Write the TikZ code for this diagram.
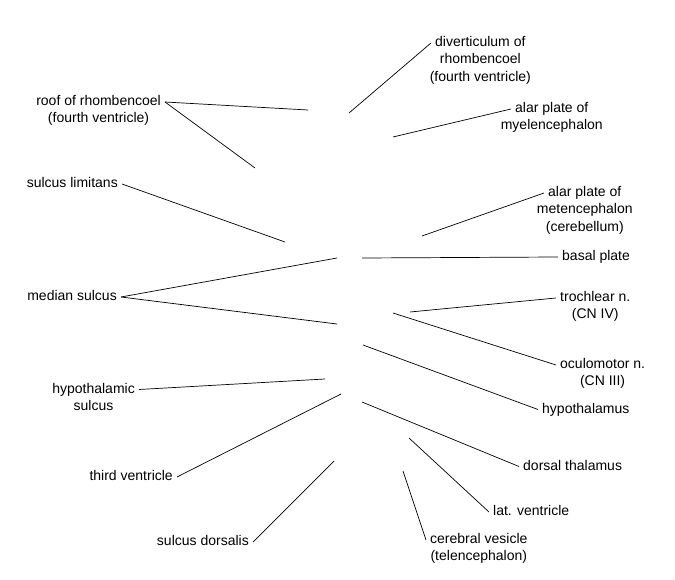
\documentclass[tikz,border=0pt]{standalone}
\usepackage{fontspec}
\setmainfont{Liberation Sans}
\usetikzlibrary{positioning}

\begin{document}
\begin{tikzpicture}[x=1pt, y=-1pt, every node/.style={font=\fontsize{14}{17}\selectfont, inner xsep=4pt, inner ysep=2pt, text height=10pt, text depth=3pt}, lead/.style={line width=0.7pt}]
    \useasboundingbox (0,0) rectangle (675,580);
    % left labels
    \node[anchor=east] (roof) at (165,102) {roof of rhombencoel};
    \node[below=0pt of roof] (roof2) {(fourth ventricle)};
    \node[anchor=east] (limitans) at (122,184) {sulcus limitans};
    \node[anchor=east] (median) at (121,297) {median sulcus};
    \node[anchor=east] (hypsulc) at (139,389.5) {hypothalamic};
    \node[below=0pt of hypsulc] (hypsulc2) {sulcus};
    \node[anchor=east] (third) at (177,477) {third ventricle};
    \node[anchor=east] (dorsalis) at (253,542) {sulcus dorsalis};
    % right labels
    \node[anchor=west] (divert) at (431,43) {diverticulum of};
    \node[below=0pt of divert] (divert2) {rhombencoel};
    \node[below=0pt of divert2] (divert3) {(fourth ventricle)};
    \node[anchor=west] (alarmy) at (511,109) {alar plate of};
    \node[below=0pt of alarmy] (alarmy2) {myelencephalon};
    \node[anchor=west] (alarme) at (544,193) {alar plate of};
    \node[below=0pt of alarme] (alarme2) {metencephalon};
    \node[below=0pt of alarme2] (alarme3) {(cerebellum)};
    \node[anchor=west] (basal) at (558,257) {basal plate};
    \node[anchor=west] (troch) at (556,298) {trochlear n.};
    \node[below=0pt of troch] (troch2) {(CN IV)};
    \node[anchor=west] (oculo) at (556,365) {oculomotor n.};
    \node[below=0pt of oculo] (oculo2) {(CN III)};
    \node[anchor=west] (hypthal) at (538,409.5) {hypothalamus};
    \node[anchor=west] (dthal) at (519,466.5) {dorsal thalamus};
    \node[anchor=west] (latvent) at (489,512) {lat. ventricle};
    \node[anchor=west] (cerebral) at (426,540) {cerebral vesicle};
    \node[below=0pt of cerebral] (cerebral2) {(telencephalon)};
    % free ends
    \coordinate (roofP) at (308,110);
    \coordinate (roofQ) at (255,168);
    \coordinate (limitansP) at (285,242);
    \coordinate (medianP) at (337,258);
    \coordinate (medianQ) at (337,324);
    \coordinate (hypsulcP) at (325,379);
    \coordinate (thirdP) at (341,394);
    \coordinate (dorsalisP) at (334,461);
    \coordinate (divertP) at (349,113);
    \coordinate (alarmyP) at (393,137);
    \coordinate (alarmeP) at (422,236);
    \coordinate (basalP) at (362,258);
    \coordinate (trochP) at (410,312);
    \coordinate (oculoP) at (393,313);
    \coordinate (hypthalP) at (363,345);
    \coordinate (dthalP) at (362,402);
    \coordinate (latventP) at (409,438);
    \coordinate (cerebralP) at (403,471);
    % leader lines
    \draw[lead] (roof.east) -- (roofP);
    \draw[lead] (roof.east) -- (roofQ);
    \draw[lead] (limitans.east) -- (limitansP);
    \draw[lead] (median.east) -- (medianP);
    \draw[lead] (median.east) -- (medianQ);
    \draw[lead] (hypsulc.east) -- (hypsulcP);
    \draw[lead] (third.east) -- (thirdP);
    \draw[lead] (dorsalis.east) -- (dorsalisP);
    \draw[lead] (divert.west) -- (divertP);
    \draw[lead] (alarmy.west) -- (alarmyP);
    \draw[lead] (alarme.west) -- (alarmeP);
    \draw[lead] (basal.west) -- (basalP);
    \draw[lead] (troch.west) -- (trochP);
    \draw[lead] (oculo.west) -- (oculoP);
    \draw[lead] (hypthal.west) -- (hypthalP);
    \draw[lead] (dthal.west) -- (dthalP);
    \draw[lead] (latvent.west) -- (latventP);
    \draw[lead] (cerebral.west) -- (cerebralP);
\end{tikzpicture}
\end{document}
